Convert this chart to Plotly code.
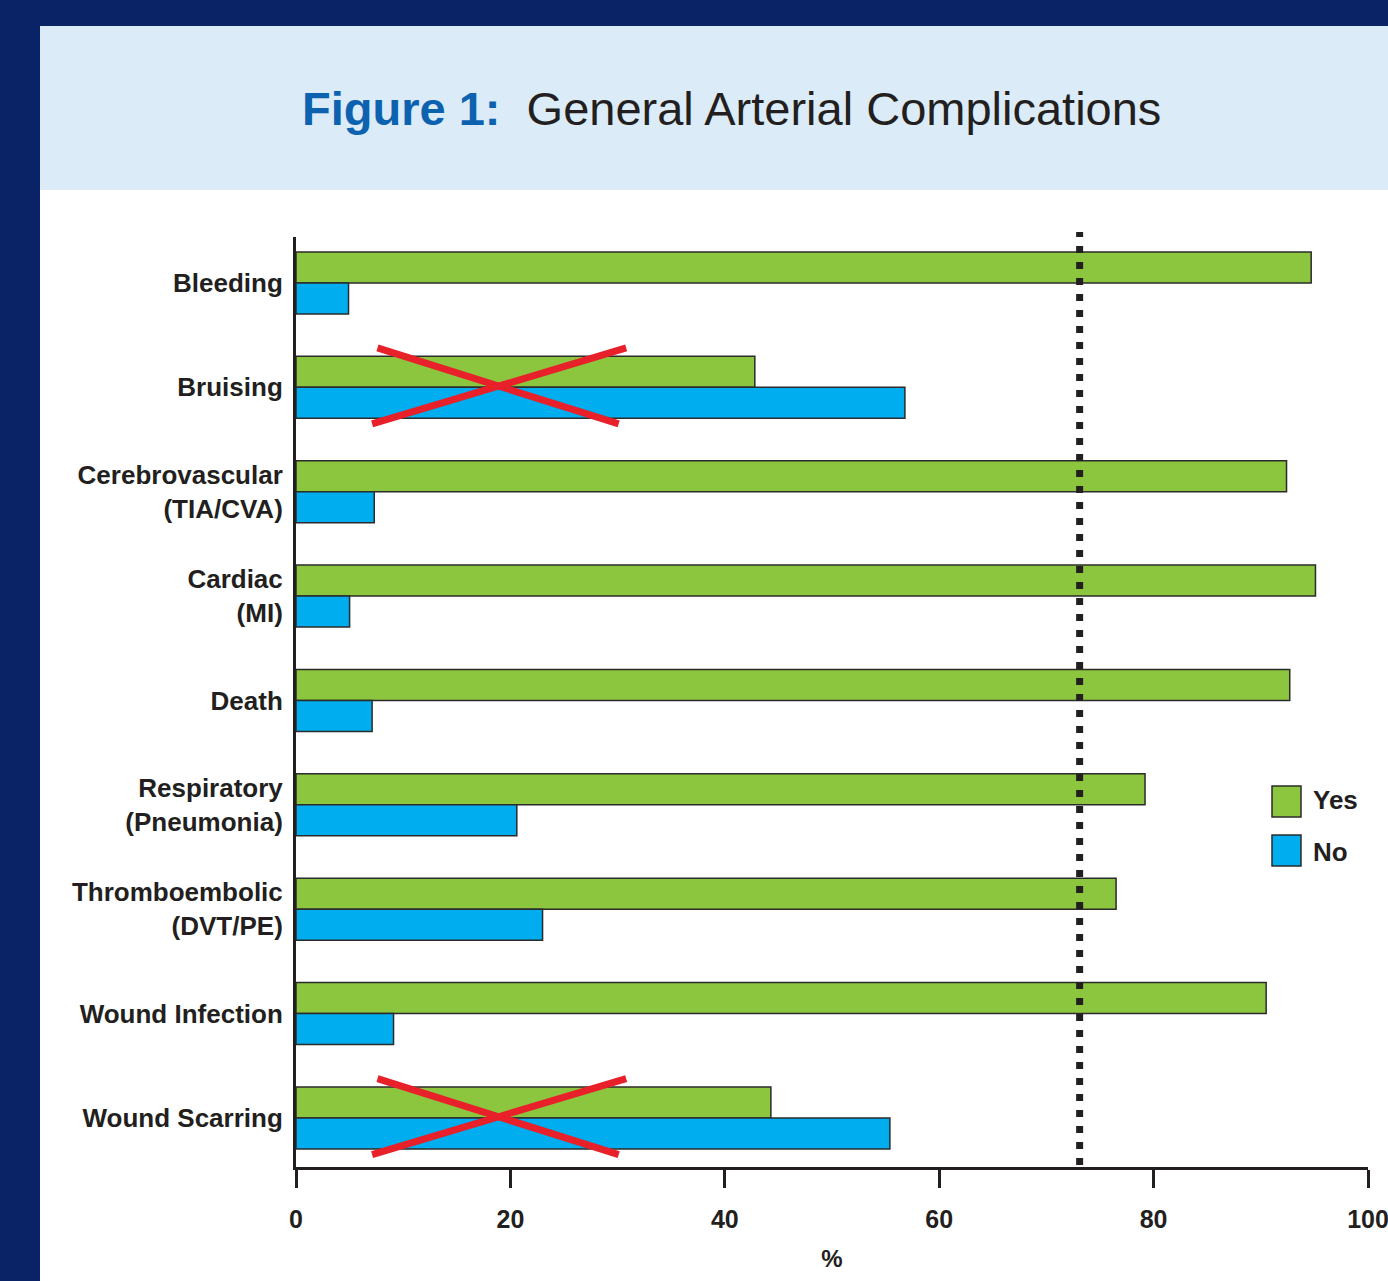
import plotly.graph_objects as go

# ---------------- data ----------------
categories = [
    "Bleeding",
    "Bruising",
    "Cerebrovascular<br>(TIA/CVA)",
    "Cardiac<br>(MI)",
    "Death",
    "Respiratory<br>(Pneumonia)",
    "Thromboembolic<br>(DVT/PE)",
    "Wound Infection",
    "Wound Scarring",
]
yes_values = [94.7, 42.8, 92.4, 95.1, 92.7, 79.2, 76.5, 90.5, 44.3]
no_values = [4.9, 56.8, 7.3, 5.0, 7.1, 20.6, 23.0, 9.1, 55.4]
series_names = ["Yes", "No"]
x_ticks = [0, 20, 40, 60, 80, 100]
reference_line = 73.1
crossed_out = ["Bruising", "Wound Scarring"]

# ---------------- style ----------------
GREEN = "#8cc63f"
BLUE = "#00adee"
NAVY = "#0a2266"
HEADER = "#dbebf7"
TEXT = "#231f20"
TITLE_BLUE = "#0d62b0"
RED = "#e8202a"
FONT = "Liberation Sans"

W, H = 1388, 1281
L, R, T, B = 296, 20, 237, 114
PW, PH = W - L - R, H - T - B


def px(xp):
    return (xp - L) / PW


def py(yp):
    return (H - B - yp) / PH


fig = go.Figure()
for name, vals, col in [(series_names[0], yes_values, GREEN), (series_names[1], no_values, BLUE)]:
    fig.add_trace(go.Bar(
        y=categories, x=vals, name=name, orientation="h",
        marker=dict(color=col, line=dict(color="#2b2b2b", width=1.5)),
        showlegend=False,
    ))

shapes = []
# background decoration
shapes.append(dict(type="rect", xref="paper", yref="paper", x0=px(-5), x1=px(40), y0=py(1290), y1=py(-5),
                   fillcolor=NAVY, line=dict(width=0), layer="below"))
shapes.append(dict(type="rect", xref="paper", yref="paper", x0=px(-5), x1=px(1395), y0=py(26), y1=py(-5),
                   fillcolor=NAVY, line=dict(width=0), layer="below"))
shapes.append(dict(type="rect", xref="paper", yref="paper", x0=px(40), x1=px(1395), y0=py(190), y1=py(26),
                   fillcolor=HEADER, line=dict(width=0), layer="below"))

# reference dotted line
shapes.append(dict(type="line", xref="x", yref="paper", x0=reference_line, x1=reference_line,
                   y0=py(1165), y1=py(232), line=dict(color=TEXT, width=7, dash="7px,9px"), layer="above"))

# red crosses
for cat in crossed_out:
    i = categories.index(cat)
    shapes.append(dict(type="line", xref="x", yref="y", x0=7.6, x1=30.1, y0=i - 0.377, y1=i + 0.351,
                       line=dict(color=RED, width=7), layer="above"))
    shapes.append(dict(type="line", xref="x", yref="y", x0=7.1, x1=30.8, y0=i + 0.351, y1=i - 0.377,
                       line=dict(color=RED, width=7), layer="above"))

# legend swatches
for k, col in enumerate([GREEN, BLUE]):
    top = 786 + k * 49
    shapes.append(dict(type="rect", xref="paper", yref="paper", x0=px(1272), x1=px(1301),
                       y0=py(top + 31), y1=py(top), fillcolor=col, line=dict(color="#2b2b2b", width=1.5)))

annotations = []
for k, name in enumerate(series_names):
    annotations.append(dict(xref="paper", yref="paper", x=px(1311), y=py(800 + k * 52), xanchor="left",
                            yanchor="middle", text="<b>%s</b>" % name, showarrow=False,
                            font=dict(family=FONT, size=26, color=TEXT)))

annotations.append(dict(
    xref="paper", yref="paper", x=px(731), y=py(108), xanchor="center", yanchor="middle",
    text="<span style='color:%s'><b>Figure 1:</b></span>&nbsp;&nbsp;General Arterial Complications" % TITLE_BLUE,
    showarrow=False, font=dict(family=FONT, size=47, color=TEXT)))

fig.update_layout(
    width=W, height=H,
    margin=dict(l=L, r=R, t=T, b=B, pad=0, autoexpand=False),
    paper_bgcolor="white", plot_bgcolor="rgba(0,0,0,0)",
    barmode="group", bargap=0.406, bargroupgap=0,
    shapes=shapes, annotations=annotations,
    font=dict(family=FONT, color=TEXT),
    xaxis=dict(
        range=[0, 100], tickvals=x_ticks, ticktext=["<b>%d</b>" % v for v in x_ticks],
        showgrid=False, zeroline=False, showline=True, linecolor=TEXT, linewidth=3,
        ticks="outside", ticklen=18, tickwidth=3, tickcolor=TEXT,
        tickfont=dict(family=FONT, size=25, color=TEXT), ticklabelstandoff=10,
        ticklabeloverflow="allow", automargin=False,
        title=dict(text="<b>%</b>", font=dict(family=FONT, size=24, color=TEXT), standoff=19),
    ),
    yaxis=dict(
        range=[8.47, -0.44], showgrid=False, zeroline=False, showline=True, linecolor=TEXT, linewidth=3,
        ticks="", tickvals=list(range(len(categories))),
        ticktext=["<b>%s</b>" % c for c in categories], automargin=False,
        tickfont=dict(family=FONT, size=26, color=TEXT), ticklabelstandoff=5,
    ),
)

fig.write_html("out.html")
